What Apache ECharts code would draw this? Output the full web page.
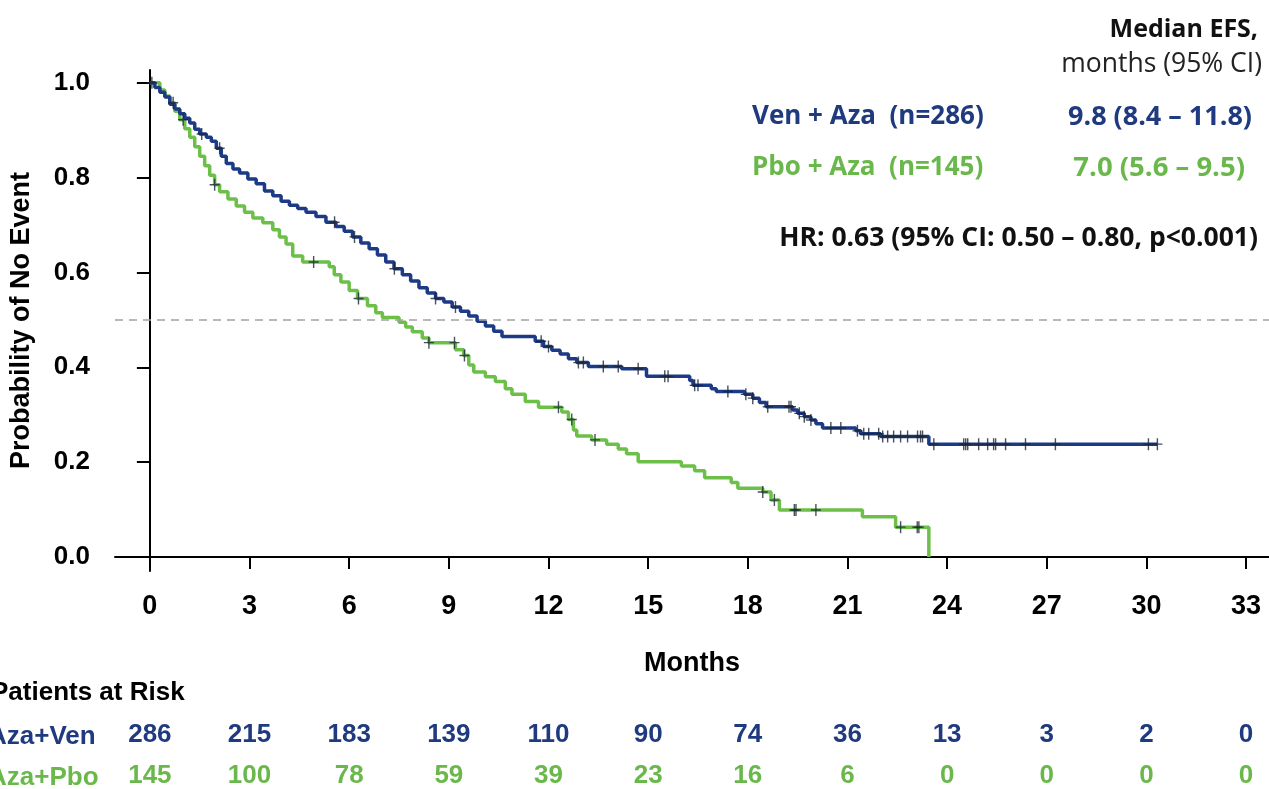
<!DOCTYPE html>
<html>
<head>
<meta charset="utf-8">
<script src="https://cdn.jsdelivr.net/npm/echarts@6/dist/echarts.min.js"></script>
<style>
  html, body { margin: 0; padding: 0; background: #ffffff; }
  #chart { width: 1269px; height: 789px; }
</style>
</head>
<body>
<div id="chart"></div>
<script>
// Month ticks shared by the main axis and the patients-at-risk rows
const monthTicks = [0, 3, 6, 9, 12, 15, 18, 21, 24, 27, 30, 33];
const probTicks = [0, 0.2, 0.4, 0.6, 0.8, 1.0];

// Patients at risk at each month tick
const venAtRisk = [286, 215, 183, 139, 110, 90, 74, 36, 13, 3, 2, 0];
const pboAtRisk = [145, 100, 78, 59, 39, 23, 16, 6, 0, 0, 0, 0];

// Kaplan-Meier steps, Ven + Aza: event time (months) and survival after the step
const venTime = [0, 0.15, 0.3, 0.45, 0.6, 0.75, 0.9, 1.05, 1.2, 1.35, 1.5, 1.7, 1.85, 2.0, 2.15, 2.3, 2.5, 2.7, 2.95,
  3.2, 3.45, 3.7, 3.95, 4.2, 4.45, 4.7, 5.0, 5.3, 5.6, 5.85, 6.1, 6.35, 6.6, 6.85, 7.1, 7.35, 7.6, 7.85, 8.1, 8.35,
  8.6, 8.85, 9.1, 9.35, 9.6, 9.85, 10.1, 10.35, 10.6, 11.6, 11.85, 12.1, 12.35, 12.6, 12.85, 13.2, 14.2, 14.95,
  16.25, 16.35, 16.9, 17.05, 17.9, 18.15, 18.35, 18.55, 19.35, 19.5, 19.7, 19.9, 20.05, 20.25, 21.25, 21.4, 22.0, 23.45];
const venSurv = [1.0, 0.99, 0.98, 0.97, 0.955, 0.945, 0.935, 0.925, 0.915, 0.902, 0.892, 0.885, 0.877, 0.862, 0.845, 0.83, 0.818, 0.81, 0.797,
  0.787, 0.772, 0.762, 0.75, 0.742, 0.735, 0.727, 0.718, 0.706, 0.697, 0.687, 0.675, 0.662, 0.65, 0.637, 0.622, 0.608, 0.595, 0.582, 0.568, 0.557,
  0.545, 0.538, 0.527, 0.518, 0.508, 0.497, 0.487, 0.476, 0.465, 0.455, 0.444, 0.436, 0.428, 0.418, 0.41, 0.402, 0.397, 0.381,
  0.372, 0.362, 0.355, 0.349, 0.343, 0.335, 0.326, 0.317, 0.31, 0.303, 0.296, 0.289, 0.281, 0.272, 0.266, 0.26, 0.254, 0.238];

// Kaplan-Meier steps, Pbo + Aza
const pboTime = [0, 0.3, 0.45, 0.6, 0.75, 0.9, 1.05, 1.2, 1.35, 1.5, 1.65, 1.8, 1.95, 2.1, 2.35, 2.6, 2.85, 3.1, 3.4, 3.7,
  3.9, 4.1, 4.3, 4.6, 5.4, 5.55, 5.75, 6.0, 6.25, 6.55, 6.8, 7.0, 7.5, 7.7, 7.9, 8.2, 8.4, 9.2, 9.45, 9.6, 9.75, 10.1,
  10.4, 10.7, 10.9, 11.3, 11.7, 12.4, 12.6, 12.75, 12.85, 13.3, 13.75, 14.1, 14.35, 14.7, 16.0, 16.4, 16.7, 17.5, 17.7,
  18.45, 18.7, 18.95, 21.45, 22.45, 23.45];
const pboSurv = [1.0, 0.985, 0.972, 0.958, 0.94, 0.922, 0.903, 0.885, 0.865, 0.845, 0.825, 0.805, 0.785, 0.77, 0.755, 0.74, 0.727, 0.715, 0.705, 0.69,
  0.675, 0.66, 0.635, 0.622, 0.612, 0.595, 0.58, 0.562, 0.545, 0.53, 0.515, 0.505, 0.495, 0.485, 0.475, 0.462, 0.452, 0.437, 0.425, 0.405, 0.39, 0.38,
  0.37, 0.355, 0.343, 0.328, 0.316, 0.306, 0.29, 0.268, 0.255, 0.247, 0.238, 0.228, 0.218, 0.201, 0.192, 0.182, 0.167, 0.157, 0.145,
  0.137, 0.12, 0.099, 0.085, 0.063, 0.0];

// Censoring times (months)
const venCensor = [0.06, 1.56, 2.1, 5.56, 6.16, 7.36, 8.6, 9.2, 11.78, 12.0, 12.9, 13.05, 13.65, 14.1, 14.7, 15.5, 15.6,
  16.4, 16.5, 17.4, 17.94, 18.15, 18.6, 19.24, 19.3, 19.55, 19.7, 19.9, 20.5, 20.8, 21.3, 21.49, 21.64, 21.94, 22.06,
  22.21, 22.39, 22.6, 22.81, 23.11, 23.2, 23.26, 23.6, 24.5, 24.56, 24.62, 24.95, 25.22, 25.4, 25.46, 25.76, 26.36,
  27.26, 30.06, 30.33];
const pboCensor = [0.7, 1.0, 1.95, 4.93, 6.28, 8.4, 9.17, 9.47, 12.3, 12.7, 13.4, 18.45, 18.8, 19.4, 19.45, 20.05,
  22.6, 23.1, 23.15];

const VEN_COLOR = '#1d3a86';
const PBO_COLOR = '#6cc04a';
const VEN_TEXT = '#1f3a7e';
const PBO_TEXT = '#6ab84c';
const MARK_COLOR = '#1a2535';
const AXIS_FONT = '"Liberation Sans", Arial, sans-serif';
const NOTE_FONT = '"Open Sans", Lato, sans-serif';

// Survival value in force at time t
function survAt(t, times, surv) {
  let v = surv[0];
  for (let i = 0; i < times.length; i++) {
    if (times[i] <= t) v = surv[i]; else break;
  }
  return v;
}

// Step curve, carried on to the last censored patient when that follows the last event
function curve(times, surv, censor) {
  const pts = times.map((t, i) => [t, surv[i]]);
  const lastC = Math.max.apply(null, censor);
  if (lastC > times[times.length - 1]) pts.push([lastC, surv[surv.length - 1]]);
  return pts;
}

function marks(censor, times, surv) {
  return censor.map(t => [t, survAt(t, times, surv)]);
}

const plusSymbol = 'path://M4.3,0H5.7V12H4.3Z M0,5.3H10V6.7H0Z';

const chart = echarts.init(document.getElementById('chart'), null, { renderer: 'canvas' });

const riskAxis = (values, color, offset) => ({
  type: 'value', gridIndex: 0, position: 'bottom', offset: offset,
  min: -1.05, max: 33.69,
  axisLine: { show: false }, axisTick: { show: false }, splitLine: { show: false },
  axisLabel: {
    customValues: monthTicks, margin: 0,
    formatter: v => String(values[Math.round(v / 3)]),
    color: color, fontFamily: AXIS_FONT, fontWeight: 'bold', fontSize: 26
  }
});

const note = (text, x, y, align, size, weight, fill) => ({
  type: 'text',
  style: { text: text, x: x, y: y, textAlign: align, textVerticalAlign: 'middle', font: weight + ' ' + size + 'px ' + NOTE_FONT, fill: fill }
});

chart.setOption({
  animation: false,
  backgroundColor: '#ffffff',
  grid: { left: 113, top: 70, width: 1156, height: 501, containLabel: false },
  xAxis: [
    {
      type: 'value', min: -1.05, max: 33.69,
      axisLine: { show: true, lineStyle: { color: '#000', width: 2 } },
      axisTick: { show: true, customValues: monthTicks, length: 12, lineStyle: { color: '#000', width: 2 } },
      axisLabel: { customValues: monthTicks, margin: 22, color: '#000', fontFamily: AXIS_FONT, fontWeight: 'bold', fontSize: 27 },
      splitLine: { show: false },
      name: 'Months', nameLocation: 'middle', nameGap: 79,
      nameTextStyle: { color: '#000', fontFamily: AXIS_FONT, fontWeight: 'bold', fontSize: 27 }
    },
    riskAxis(venAtRisk, VEN_TEXT, 151),
    riskAxis(pboAtRisk, PBO_TEXT, 192)
  ],
  yAxis: {
    type: 'value', min: -0.0295, max: 1.027,
    axisLine: { show: true, lineStyle: { color: '#000', width: 2 } },
    axisTick: { show: true, customValues: probTicks, length: 13, lineStyle: { color: '#000', width: 2 } },
    axisLabel: { customValues: probTicks, margin: 25, formatter: v => v.toFixed(1), color: '#000', fontFamily: AXIS_FONT, fontWeight: 'bold', fontSize: 26 },
    splitLine: { show: false },
    name: 'Probability of No Event', nameLocation: 'middle', nameRotate: 90, nameGap: 80,
    nameTextStyle: { color: '#000', fontFamily: AXIS_FONT, fontWeight: 'bold', fontSize: 27 }
  },
  series: [
    {
      name: 'Pbo + Aza', type: 'line', step: 'end', showSymbol: false, z: 2,
      data: curve(pboTime, pboSurv, pboCensor),
      lineStyle: { color: PBO_COLOR, width: 3.5 },
      markLine: {
        silent: true, symbol: 'none', label: { show: false },
        lineStyle: { color: '#a3a3a3', width: 1.5, type: [8, 6] },
        data: [{ yAxis: 0.5 }]
      }
    },
    {
      name: 'Ven + Aza', type: 'line', step: 'end', showSymbol: false, z: 3,
      data: curve(venTime, venSurv, venCensor),
      lineStyle: { color: VEN_COLOR, width: 3.5 }
    },
    {
      name: 'Pbo censored', type: 'scatter', z: 4, symbol: plusSymbol, symbolSize: [10, 12],
      data: marks(pboCensor, pboTime, pboSurv), itemStyle: { color: MARK_COLOR }
    },
    {
      name: 'Ven censored', type: 'scatter', z: 4, symbol: plusSymbol, symbolSize: [10, 12],
      data: marks(venCensor, venTime, venSurv), itemStyle: { color: MARK_COLOR }
    }
  ],
  graphic: [
    note('Median EFS,', 1258, 30, 'right', 25, 'bold', '#111'),
    note('months (95% CI)', 1262, 64, 'right', 26.5, 'normal', '#222'),
    note('Ven + Aza  (n=286)', 752, 117, 'left', 26, 'bold', VEN_TEXT),
    note('9.8 (8.4 \u2013 11.8)', 1252, 117, 'right', 27, 'bold', VEN_TEXT),
    note('Pbo + Aza  (n=145)', 752, 168, 'left', 26, 'bold', PBO_TEXT),
    note('7.0 (5.6 \u2013 9.5)', 1245, 168, 'right', 27.5, 'bold', PBO_TEXT),
    note('HR: 0.63 (95% CI: 0.50 \u2013 0.80, p<0.001)', 1258, 238, 'right', 26.5, 'bold', '#111'),
    { type: 'text', style: { text: 'Patients at Risk', x: -9, y: 693, textAlign: 'left', textVerticalAlign: 'middle', font: 'bold 26px ' + AXIS_FONT, fill: '#000' } },
    { type: 'text', style: { text: 'Aza+Ven', x: -12, y: 737, textAlign: 'left', textVerticalAlign: 'middle', font: 'bold 26px ' + AXIS_FONT, fill: VEN_TEXT } },
    { type: 'text', style: { text: 'Aza+Pbo', x: -12, y: 778, textAlign: 'left', textVerticalAlign: 'middle', font: 'bold 26px ' + AXIS_FONT, fill: PBO_TEXT } }
  ]
});
</script>
</body>
</html>
